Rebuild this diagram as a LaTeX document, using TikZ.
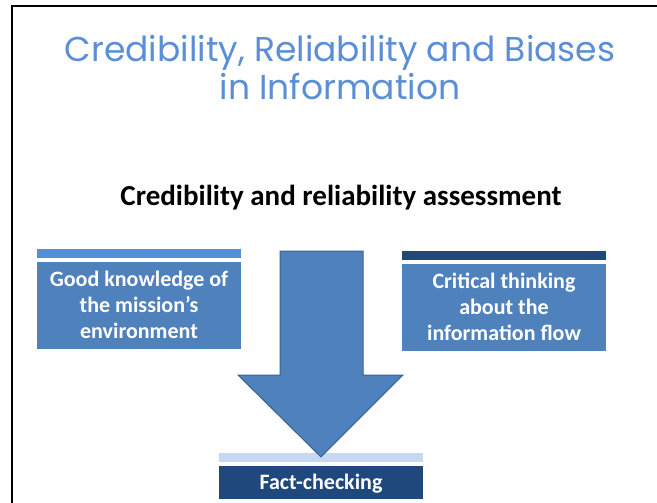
\documentclass[tikz,border=0pt]{standalone}
\usepackage{fontspec}
\newfontfamily\titlefont{Poppins}
\newfontfamily\bodyfont{Carlito}
\definecolor{titleblue}{HTML}{5A8FD8}
\definecolor{midblue}{HTML}{4F81BD}
\definecolor{lightbar}{HTML}{558ED5}
\definecolor{darkblue}{HTML}{1F497D}
\definecolor{paleblue}{HTML}{C6D9F1}
\definecolor{arrowedge}{HTML}{3A6190}
\begin{document}
\begin{tikzpicture}[x=1pt,y=-1pt,
  boxtext/.style={text=white,font=\bodyfont\bfseries\fontsize{22}{26}\selectfont,align=center,inner sep=0pt,anchor=base}]
\useasboundingbox (0,0) rectangle (657,503);
\fill[white] (0,0) rectangle (657,503);
% frame
\draw[line width=2.2pt] (12,503) -- (12,6) -- (657,6);
% title
\node[text=titleblue,font=\titlefont\fontsize{34.5}{38.5}\selectfont,align=center,inner sep=0pt,anchor=base] (title) at (340,100)
  {Credibility, Reliability and Biases\\in Information};
\node[font=\bodyfont\bfseries\fontsize{29}{32}\selectfont,inner sep=0pt,anchor=base] (sub) at (341,205)
  {Credibility and reliability assessment};
% left box
\fill[lightbar] (37,249) rectangle (241,258);
\fill[midblue] (37,262) rectangle (241,349);
\node[boxtext] (left) at (139,338) {Good knowledge of\\the mission’s\\environment};
% right box
\fill[darkblue] (402,251) rectangle (606,260);
\fill[midblue] (402,264) rectangle (606,351);
\node[boxtext] (right) at (504,340) {Critical thinking\\about the\\information flow};
% fact checking
\fill[paleblue] (219,453) rectangle (423,462);
\fill[darkblue] (219,466) rectangle (423,499);
\node[text=white,font=\bodyfont\bfseries\fontsize{22}{24}\selectfont,inner sep=0pt,anchor=base] (fact) at (321,489) {Fact-checking};
% arrow
\draw[fill=midblue,draw=arrowedge,line width=1pt,line join=miter]
  (280,251) -- (363,251) -- (363,375) -- (403,375) -- (321,457) -- (238,375) -- (280,375) -- cycle;
\end{tikzpicture}
\end{document}
